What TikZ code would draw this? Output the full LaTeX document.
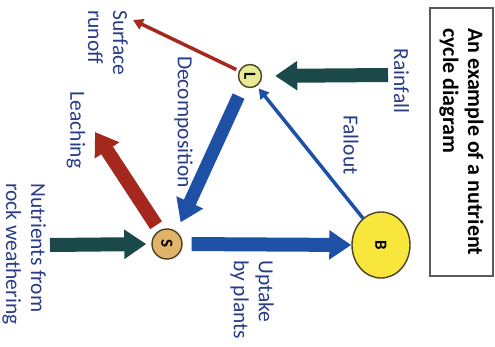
\documentclass[tikz,border=0pt]{standalone}
\usepackage{fontspec}
\usepackage{graphicx}
\setmainfont{Carlito}
\usetikzlibrary{arrows.meta,shapes.geometric}
\definecolor{tealdark}{RGB}{27,72,72}
\definecolor{arrblue}{RGB}{30,80,165}
\definecolor{arrred}{RGB}{165,40,30}
\definecolor{lblblue}{RGB}{40,60,135}
\definecolor{lfill}{RGB}{232,234,150}
\definecolor{sfill}{RGB}{226,180,105}
\definecolor{bfill}{RGB}{248,230,60}
\definecolor{ringcol}{RGB}{75,65,35}
\definecolor{boxcol}{RGB}{90,90,90}
\begin{document}
\begin{tikzpicture}[x=1pt,y=1pt,
  lbl/.style={rotate=-90, text=lblblue, font=\fontsize{21.5}{25}\selectfont, inner sep=0pt, align=left},
  pool/.style={draw=ringcol, line width=1.4pt, inner sep=0pt, font=\bfseries\fontsize{17}{17}\selectfont},
  fatarrow/.style={line width=14pt, -{Triangle[width=28pt,length=22pt]}},
  thinarrow/.style={line width=3.5pt, -{Triangle[width=11pt,length=10pt]}}
]
\useasboundingbox (0,0) rectangle (495,346);

% title box
\node (title) [rotate=-90, draw=boxcol, line width=1.2pt, minimum width=268pt, minimum height=63pt,
  align=left, font=\bfseries\fontsize{22}{25}\selectfont] at (461.5,204)
  {An example of a nutrient\\cycle diagram};

% pools
\node (L) [pool, circle, fill=lfill, minimum size=23pt] at (250,270) {\rotatebox{-90}{L}};
\node (S) [pool, circle, fill=sfill, minimum size=30pt] at (167,102) {\rotatebox{-90}{S}};
\node (B) [pool, ellipse, fill=bfill, minimum width=58pt, minimum height=66pt] at (381,101) {\rotatebox{-90}{B}};

% free ends
\coordinate (rainsrc) at (388,271);
\coordinate (nutsrc) at (50,101);
\coordinate (leachend) at (95,214);
\coordinate (runoffend) at (133,326);

% connectors
\draw[fatarrow, draw=tealdark, fill=tealdark, shorten >=13pt] (rainsrc) -- (L.east);
\draw[fatarrow, draw=tealdark, fill=tealdark, shorten >=5pt] (nutsrc) -- (S.west);
\draw[fatarrow, draw=arrblue, fill=arrblue, shorten <=9pt] (S.east) -- (B.west);
\draw[fatarrow, draw=arrblue, fill=arrblue, line width=13pt, shorten <=11pt, shorten >=10pt] (L.236) -- (S.53);
\draw[fatarrow, draw=arrred, fill=arrred, shorten <=6pt] (S.119) -- (leachend);
\draw[thinarrow, draw=arrblue, fill=arrblue, shorten >=3pt] (B.124) -- (L.-56);
\draw[thinarrow, draw=arrred, fill=arrred, shorten <=3pt] (L.155) -- (runoffend);

% labels
\node (rainlbl) [lbl] at (401.5,265) {Rainfall};
\node (falllbl) [lbl] at (351,201) {Fallout};
\node (decolbl) [lbl] at (183.5,224) {Decomposition};
\node (leachlbl) [lbl] at (76,216) {Leaching};
\node (runofflbl) [lbl, anchor=north west] at (128,336) {Surface\\runoff};
\node (nutlbl) [lbl, anchor=north west] at (46,163) {Nutrients from\\rock weathering};
\node (uptlbl) [lbl, anchor=north west] at (274,86) {Uptake\\by plants};
\end{tikzpicture}
\end{document}
